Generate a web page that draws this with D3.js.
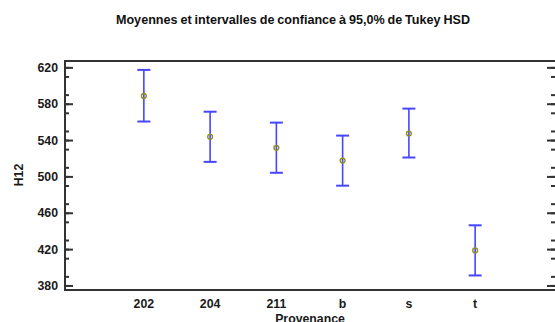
<!DOCTYPE html>
<html>
<head>
<meta charset="utf-8">
<script src="https://cdn.jsdelivr.net/npm/d3@7"></script>
<style>
  html, body { margin: 0; padding: 0; background: #fff; }
  svg { display: block; font-family: "Liberation Sans", Arial, sans-serif; }
</style>
</head>
<body>
<svg id="chart" width="555" height="322"></svg>
<script>
// Tukey HSD means with 95% intervals per origin
const categories = ["202", "204", "211", "b", "s", "t"];
const means = [588.6, 543.6, 531.4, 517.4, 547.2, 418.6];
const lower = [560.4, 516.0, 504.0, 489.8, 520.8, 391.0];
const upper = [617.2, 571.2, 559.2, 544.9, 574.6, 446.2];
const yTicks = [380, 420, 460, 500, 540, 580, 620];

const svg = d3.select("#chart");
const plotLeft = 65, plotRight = 554, plotTop = 61, plotBottom = 290;

const x = d3.scalePoint().domain(categories).range([plotLeft, plotRight]).padding(1.19);
const y = d3.scaleLinear().domain([375, 627]).range([plotBottom, plotTop]);

const axisColor = "#333";
const textColor = "#1a1a1a";
const fontSize = 12.3;

// frame: left, top, bottom lines
svg.append("line").attr("x1", plotLeft).attr("x2", plotLeft).attr("y1", plotTop).attr("y2", plotBottom)
  .attr("stroke", axisColor).attr("stroke-width", 2);
svg.append("line").attr("x1", plotLeft - 1).attr("x2", 556).attr("y1", plotTop).attr("y2", plotTop)
  .attr("stroke", axisColor).attr("stroke-width", 2);
svg.append("line").attr("x1", plotLeft - 1).attr("x2", 556).attr("y1", plotBottom).attr("y2", plotBottom)
  .attr("stroke", axisColor).attr("stroke-width", 2);

// inward major and minor ticks on both sides
const minorTicks = d3.range(380, 621, 10).filter(v => v % 40 !== 0);
function tickAxis(axisGen, xPos, values, size) {
  const a = svg.append("g").attr("transform", `translate(${xPos},0)`)
    .call(axisGen(y).tickValues(values).tickSize(size).tickFormat(""));
  a.select(".domain").remove();
  a.selectAll(".tick line").attr("stroke", axisColor).attr("stroke-width", 2);
}
tickAxis(d3.axisRight, plotLeft, yTicks, 8);
tickAxis(d3.axisRight, plotLeft, minorTicks, 4);
tickAxis(d3.axisLeft, 555, yTicks, 8);
tickAxis(d3.axisLeft, 555, minorTicks, 4);

// tick labels on the left
svg.append("g").selectAll("text").data(yTicks).join("text")
  .attr("x", 58).attr("y", d => y(d) + 4.5)
  .attr("text-anchor", "end").attr("font-size", fontSize).attr("font-weight", "bold")
  .attr("fill", textColor).text(d => d);

// x axis labels
svg.append("g").selectAll("text").data(categories).join("text")
  .attr("x", d => x(d)).attr("y", 307.5)
  .attr("text-anchor", "middle").attr("font-size", fontSize).attr("font-weight", "bold")
  .attr("fill", textColor).text(d => d);

// axis titles
svg.append("text").attr("x", 310).attr("y", 323)
  .attr("text-anchor", "middle").attr("font-size", fontSize).attr("font-weight", "bold")
  .attr("fill", textColor).text("Provenance");
svg.append("text").attr("transform", "translate(23,175) rotate(-90)")
  .attr("text-anchor", "middle").attr("font-size", fontSize).attr("font-weight", "bold")
  .attr("fill", textColor).text("H12");

// title
svg.append("text").attr("x", 293).attr("y", 24)
  .attr("text-anchor", "middle").attr("font-size", 12.6).attr("font-weight", "bold")
  .attr("word-spacing", -0.6)
  .attr("fill", "#111").text("Moyennes et intervalles de confiance à 95,0% de Tukey HSD");

// interval bars
const rows = categories.map((c, i) => ({ c, m: means[i], lo: lower[i], hi: upper[i] }));
const barColor = "#4646ff";
const g = svg.append("g");
g.selectAll("line.v").data(rows).join("line").attr("class", "v")
  .attr("x1", d => x(d.c)).attr("x2", d => x(d.c))
  .attr("y1", d => y(d.hi)).attr("y2", d => y(d.lo))
  .attr("stroke", barColor).attr("stroke-width", 1.6);
g.selectAll("line.top").data(rows).join("line").attr("class", "top")
  .attr("x1", d => x(d.c) - 6.5).attr("x2", d => x(d.c) + 6.5)
  .attr("y1", d => y(d.hi)).attr("y2", d => y(d.hi))
  .attr("stroke", barColor).attr("stroke-width", 2);
g.selectAll("line.bot").data(rows).join("line").attr("class", "bot")
  .attr("x1", d => x(d.c) - 6.5).attr("x2", d => x(d.c) + 6.5)
  .attr("y1", d => y(d.lo)).attr("y2", d => y(d.lo))
  .attr("stroke", barColor).attr("stroke-width", 2);

// mean markers
g.selectAll("circle.mean").data(rows).join("circle").attr("class", "mean")
  .attr("cx", d => x(d.c)).attr("cy", d => y(d.m)).attr("r", 2.4)
  .attr("fill", "none").attr("stroke", "#8f8f1a").attr("stroke-width", 1.4);
</script>
</body>
</html>
